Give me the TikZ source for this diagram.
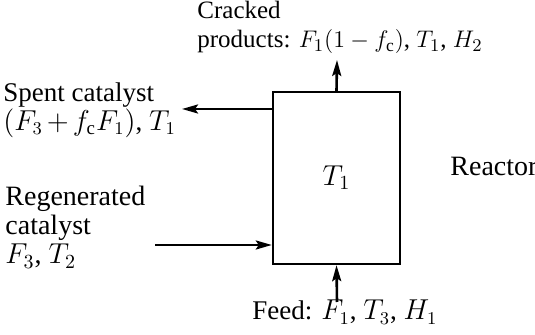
\documentclass[tikz,border=0pt]{standalone}
\usepackage{fontspec}
\setmainfont{Liberation Serif}
\usetikzlibrary{arrows.meta,calc,positioning}

\begin{document}
\begin{tikzpicture}[
    x=0.5pt, y=-0.5pt,
    every node/.style={font=\fontsize{14}{14.5}\selectfont, inner sep=0pt},
    unit/.style={draw=black, line width=1.2pt, minimum width=63.5pt, minimum height=86pt},
    flow/.style={draw=black, line width=1.3pt, -{Stealth[length=8pt, width=4.5pt, inset=1.5pt]}},
    stream/.style={align=left, anchor=north west}
]
    \useasboundingbox (0,0) rectangle (535,335);

    % --- Reactor ---
    \node[unit] (reactor) at (336.5,178) {$T_1$};
    \node[anchor=base west] (reactorlbl) at (450,176) {Reactor};

    % --- Stream labels ---
    \node[stream, font=\fontsize{12.5}{14.5}\selectfont] (crackedtxt) at (197,1) {Cracked\\products: $F_1(1-f_{\mathrm{c}})$, $T_1$, $H_2$};
    \node[stream, font=\fontsize{13.5}{13.5}\selectfont] (spenttxt) at (3,82) {Spent catalyst\\$(F_3\mskip2.5mu{+}\mskip2.5mu f_{\mathrm{c}}F_1)$, $T_1$};
    \node[stream] (regentxt) at (5,186) {Regenerated\\catalyst\\$F_3$,\ $T_2$};
    \node[anchor=base west, font=\fontsize{13.5}{14.5}\selectfont] (feedtxt) at (252,320) {Feed: $F_1$,\ $T_3$,\ $H_1$};

    % --- Stream ends ---
    \coordinate (crackedend) at (337,60);
    \coordinate (spentend) at (182,109);
    \coordinate (regenstart) at (155,245);
    \coordinate (feedstart) at (337,302);

    % --- Streams ---
    \draw[flow] (reactor.north) -- (crackedend);
    \draw[flow] (reactor.west |- spentend) -- (spentend);
    \draw[flow] (regenstart) -- (reactor.west |- regenstart);
    \draw[flow] (feedstart) -- (reactor.south);

\end{tikzpicture}
\end{document}
